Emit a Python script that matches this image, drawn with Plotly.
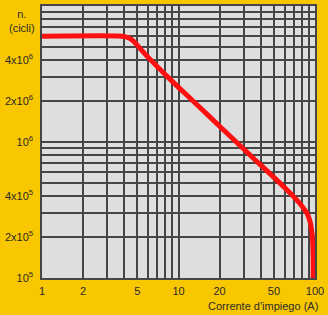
import plotly.graph_objects as go

# Data (current in A, number of cycles)
corrente = [1, 3.86, 4.3, 4.7, 5.3, 6.2, 8.5, 11.8, 16.5, 26.5, 38, 50, 62.7, 70, 78, 87.5, 92, 95.1, 96.5, 97, 97]
cicli = [6.0e6, 6.0e6, 5.85e6, 5.5e6, 4.8e6, 4.05e6, 2.95e6, 2.16e6, 1.57e6, 1.0e6, 7.1e5, 5.5e5, 4.42e5, 3.95e5, 3.5e5, 2.98e5, 2.6e5, 2.13e5, 1.7e5, 1.3e5, 1.0e5]

# Axis ticks
x_grid = [m * d for d in (1, 10) for m in range(1, 10)] + [100]
x_labels = {1: "1", 2: "2", 5: "5", 10: "10", 20: "20", 50: "50", 100: "100"}
y_grid = [m * d for d in (1e5, 1e6) for m in range(1, 10)] + [1e7]
y_labels = {1e5: "10<sup>5</sup>", 2e5: "2x10<sup>5</sup>", 4e5: "4x10<sup>5</sup>",
            1e6: "10<sup>6</sup>", 2e6: "2x10<sup>6</sup>", 4e6: "4x10<sup>6</sup>"}

BG = "#F9C700"
PLOT_BG = "#DEDEDE"
GRID = "#454545"
TXT = "#2a2a2a"
FONT = "Liberation Sans, Arial, sans-serif"

fig = go.Figure()
fig.add_trace(go.Scatter(x=corrente, y=cicli, mode="lines",
                         line=dict(color="#FF1010", width=5, shape="spline", smoothing=0.5),
                         hoverinfo="skip", showlegend=False))

fig.update_layout(
    width=328, height=315,
    margin=dict(l=42, r=10, t=4, b=37),
    paper_bgcolor=BG, plot_bgcolor=PLOT_BG,
    font=dict(family=FONT, size=11, color=TXT),
    xaxis=dict(type="log", range=[0, 2], tickvals=x_grid,
               ticktext=[x_labels.get(v, "") for v in x_grid],
               showgrid=True, gridcolor=GRID, gridwidth=1.5,
               showline=True, linecolor=GRID, linewidth=1.5, mirror=True,
               ticks="", ticklabelstandoff=2, zeroline=False, fixedrange=True),
    yaxis=dict(type="log", range=[5, 7], tickvals=y_grid,
               ticktext=[y_labels.get(v, "") for v in y_grid],
               showgrid=True, gridcolor=GRID, gridwidth=1.5,
               showline=True, linecolor=GRID, linewidth=1.5, mirror=True,
               ticks="", ticklabelstandoff=5, zeroline=False, fixedrange=True),
    annotations=[
        dict(text="n.<br>(cicli)", xref="paper", yref="paper", x=-0.075, y=1.0,
             xanchor="center", yanchor="top", showarrow=False, align="center",
             font=dict(family=FONT, size=11, color=TXT)),
        dict(text="Corrente d'impiego (A)", xref="paper", yref="paper", x=1.02, y=-0.103,
             xanchor="right", yanchor="middle", showarrow=False,
             font=dict(family=FONT, size=11, color=TXT)),
    ],
)

fig.write_html("out.html")
